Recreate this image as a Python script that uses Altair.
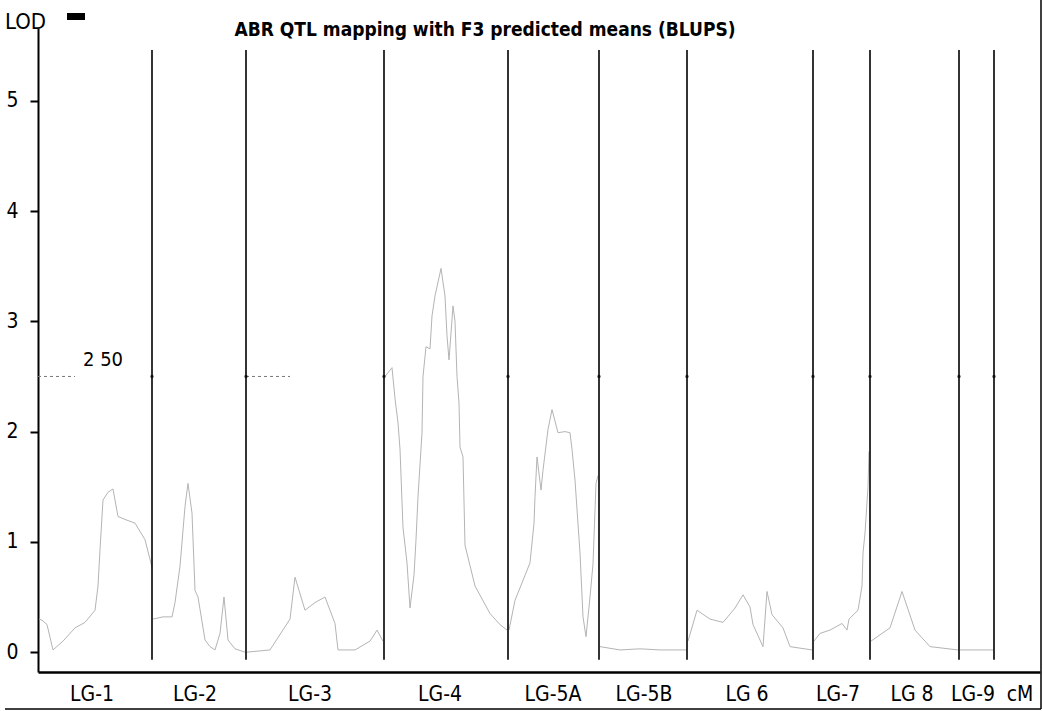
import altair as alt
import pandas as pd

# ---------------- data ----------------
group_names = ["LG-1", "LG-2", "LG-3", "LG-4", "LG-5A", "LG-5B", "LG 6", "LG-7", "LG 8", "LG-9"]
group_bounds_cm = [114, 208, 346, 470, 561, 649, 775, 832, 921, 956]  # divider positions (cM, cumulative)
label_cm = [54, 157, 272, 402, 515, 606, 709, 800, 874, 935]
unit_label_cm = 982

# LOD profile, per linkage group (cumulative cM, LOD)
curve_group = (["LG-1"] * 18 + ["LG-2"] * 18 + ["LG-3"] * 14 + ["LG-4"] * 32 + ["LG-5A"] * 22
               + ["LG-5B"] * 5 + ["LG 6"] * 14 + ["LG-7"] * 12 + ["LG 8"] * 6 + ["LG-9"] * 2)
curve_cm = [1, 4, 9, 15, 25, 37, 47, 57, 60, 62, 65, 70, 75, 80, 88, 97, 107, 114,
            115, 125, 134, 137, 142, 147, 150, 154, 157, 160, 167, 172, 177, 182, 186, 190, 197, 207,
            209, 232, 252, 257, 260, 267, 277, 287, 297, 300, 317, 332, 339, 345,
            347, 354, 357, 360, 362, 365, 369, 372, 376, 378, 380, 384, 385, 388, 392, 394, 397, 403,
            407, 409, 411, 415, 417, 419, 421, 422, 425, 427, 437, 452, 462, 469,
            471, 477, 492, 496, 497, 499, 503, 505, 510, 514, 520, 527, 532, 534, 537, 542, 545, 548,
            552, 555, 558, 560,
            562, 582, 602, 622, 648,
            650, 659, 672, 685, 697, 705, 712, 715, 725, 729, 734, 745, 752, 774,
            776, 782, 792, 804, 809, 811, 820, 824, 825, 827, 830, 831,
            833, 852, 864, 877, 892, 920,
            922, 955]
curve_lod = [0.30, 0.29, 0.25, 0.02, 0.10, 0.22, 0.27, 0.38, 0.60, 0.93, 1.38, 1.45, 1.48, 1.23, 1.20, 1.17, 1.02, 0.77,
             0.30, 0.32, 0.32, 0.45, 0.78, 1.32, 1.53, 1.26, 0.56, 0.50, 0.11, 0.05, 0.02, 0.17, 0.50, 0.11, 0.03, 0.00,
             0.00, 0.02, 0.30, 0.68, 0.59, 0.38, 0.45, 0.50, 0.26, 0.02, 0.02, 0.10, 0.20, 0.10,
             2.50, 2.58, 2.30, 2.08, 1.84, 1.13, 0.81, 0.40, 0.70, 1.02, 1.41, 1.99, 2.50, 2.77, 2.75, 3.05,
             3.23, 3.48, 3.23, 2.87, 2.65, 3.14, 3.00, 2.50, 2.26, 1.86, 1.77, 0.97, 0.60, 0.35, 0.25, 0.20,
             0.20, 0.47, 0.81, 1.17, 1.41, 1.77, 1.47, 1.65, 2.02, 2.20, 1.99, 2.00, 1.99, 1.84, 1.56, 0.90,
             0.32, 0.14, 0.50, 0.80, 1.53, 1.60,
             0.05, 0.02, 0.03, 0.02, 0.02,
             0.10, 0.38, 0.30, 0.27, 0.40, 0.52, 0.41, 0.25, 0.05, 0.55, 0.34, 0.22, 0.05, 0.02,
             0.10, 0.17, 0.20, 0.26, 0.20, 0.30, 0.38, 0.60, 0.90, 1.08, 1.50, 1.82,
             0.10, 0.22, 0.55, 0.20, 0.05, 0.02,
             0.02, 0.02]

threshold = 2.5
threshold_start = [0, 208]
threshold_end = [37, 252]
y_ticks = [0, 1, 2, 3, 4, 5]

NARROW = "Liberation Sans Narrow, DejaVu Sans Condensed, Liberation Sans"

# ---------------- frames ----------------
curve = pd.DataFrame({"group": curve_group, "cM": curve_cm, "LOD": curve_lod})
dividers = pd.DataFrame({"cM": group_bounds_cm, "top": [5.46] * len(group_bounds_cm),
                         "bottom": [-0.07] * len(group_bounds_cm)})
labels = pd.DataFrame({"cM": label_cm + [unit_label_cm], "text": group_names + ["cM"]})
thr = pd.DataFrame({"x0": threshold_start, "x1": threshold_end, "y": [threshold] * 2})
thr_dots = pd.DataFrame({"cM": group_bounds_cm, "LOD": [threshold] * len(group_bounds_cm)})
one = pd.DataFrame({"a": [0]})

xscale = alt.Scale(domain=[0, 1002], nice=False, zero=False)
yscale = alt.Scale(domain=[-0.18, 5.66], nice=False, zero=False)

base_axes = alt.Chart(one).mark_point(opacity=0).encode(
    x=alt.X("a:Q", scale=xscale,
            axis=alt.Axis(labels=False, ticks=False, grid=False, title=None,
                          domainWidth=2.5, domainColor="black")),
    y=alt.Y("a:Q", scale=yscale,
            axis=alt.Axis(values=y_ticks, format="d", grid=False, title=None, tickSize=8, tickWidth=2,
                          tickColor="black", domainWidth=2, domainColor="black",
                          labelFont=NARROW, labelFontSize=21, labelColor="black",
                          labelPadding=12)),
)

lod_line = alt.Chart(curve).mark_line(color="#b4b4b4", strokeWidth=1).encode(
    x=alt.X("cM:Q", scale=xscale), y=alt.Y("LOD:Q", scale=yscale), detail="group:N"
)

div_rules = alt.Chart(dividers).mark_rule(color="black", strokeWidth=1.6).encode(
    x=alt.X("cM:Q", scale=xscale), y=alt.Y("top:Q", scale=yscale), y2="bottom:Q"
)

thr_rules = alt.Chart(thr).mark_rule(color="#777777", strokeWidth=1, strokeDash=[3, 3]).encode(
    x=alt.X("x0:Q", scale=xscale), x2="x1:Q", y=alt.Y("y:Q", scale=yscale)
)

thr_pts = alt.Chart(thr_dots).mark_point(filled=True, color="black", size=12, shape="circle").encode(
    x=alt.X("cM:Q", scale=xscale), y=alt.Y("LOD:Q", scale=yscale)
)

thr_label = alt.Chart(pd.DataFrame({"cM": [45], "LOD": [threshold], "t": ["2 50"]})).mark_text(
    font=NARROW, fontSize=20, align="left", baseline="bottom", dy=-6, color="black"
).encode(x=alt.X("cM:Q", scale=xscale), y=alt.Y("LOD:Q", scale=yscale), text="t:N")

group_labels = alt.Chart(labels).mark_text(
    font=NARROW, fontSize=21, align="center", baseline="middle", color="black"
).encode(x=alt.X("cM:Q", scale=xscale), y=alt.value(695 - 28), text="text:N")

title = alt.Chart(pd.DataFrame({"t": ["ABR QTL mapping with F3 predicted means (BLUPS)"]})).mark_text(
    font="DejaVu Sans Condensed, DejaVu Sans", fontWeight="bold", fontSize=19,
    align="center", baseline="middle", color="black"
).encode(x=alt.value(485 - 38), y=alt.value(30 - 28), text="t:N")

lod_title = alt.Chart(pd.DataFrame({"t": ["LOD"]})).mark_text(
    font=NARROW, fontSize=22, align="left", baseline="middle", color="black"
).encode(x=alt.value(5 - 38), y=alt.value(22 - 28), text="t:N")

blob = alt.Chart(one).mark_rect(color="black").encode(
    x=alt.value(67 - 38), x2=alt.value(85 - 38), y=alt.value(13 - 28), y2=alt.value(20 - 28)
)

frame_bottom = alt.Chart(one).mark_rule(color="black", strokeWidth=1.5).encode(
    x=alt.value(5 - 38), x2=alt.value(1041 - 38), y=alt.value(709 - 28)
)
frame_right = alt.Chart(one).mark_rule(color="black", strokeWidth=1.5).encode(
    x=alt.value(1041 - 38), y=alt.value(0 - 28), y2=alt.value(709 - 28)
)

chart = alt.layer(
    base_axes, thr_rules, lod_line, div_rules, thr_pts, thr_label, group_labels,
    title, lod_title, blob, frame_bottom, frame_right
).properties(
    width=1002, height=644,
    autosize=alt.AutoSizeParams(type="none"),
    padding={"left": 38, "top": 28, "right": 3, "bottom": 39},
    background="white",
).configure_view(stroke=None)

chart.save("out.html", embed_options={"renderer": "svg", "actions": False})
